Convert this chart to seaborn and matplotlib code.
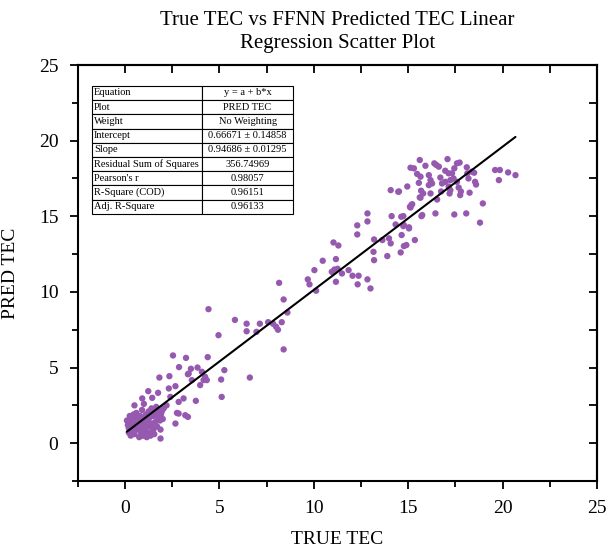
import numpy as np
import pandas as pd
import matplotlib
matplotlib.use("Agg")
import matplotlib.pyplot as plt
import seaborn as sns
from matplotlib.ticker import MultipleLocator

# ---- data ----
true_tec = [
    # dense cluster near origin
    0.1, 0.15, 0.2, 0.2, 0.25, 0.3, 0.3, 0.35, 0.4, 0.4, 0.45, 0.5, 0.5, 0.55, 0.6, 0.6,
    0.65, 0.7, 0.7, 0.75, 0.8, 0.8, 0.85, 0.9, 0.9, 0.95, 1.0, 1.0, 1.05, 1.1, 1.1, 1.15,
    1.2, 1.2, 1.25, 1.3, 1.3, 1.35, 1.4, 1.4, 1.45, 1.5, 1.55, 1.6, 1.6, 1.65, 1.7, 1.75,
    1.8, 1.85, 1.9, 1.95, 2.0, 2.05, 1.1, 0.6, 0.3, 1.5, 0.9, 0.5, 1.0, 2.2,
    # low scatter
    1.88, 1.88, 2.67, 2.84, 2.75, 3.19, 3.33, 0.91, 1.23, 1.44, 1.75, 2.32, 2.4, 2.67,
    2.84, 3.1, 3.75, 5.12, 1.82, 2.35, 3.37, 2.54, 3.23, 4.38, 2.86, 3.49, 3.84, 4.07,
    5.26, 3.33, 4.24, 4.16, 4.33, 5.09, 6.61, 3.54, 3.98,
    # mid
    4.42, 4.95, 5.82, 6.44, 6.44, 6.96, 7.14, 7.58, 7.84, 8.0, 8.1, 8.3, 8.4, 8.16, 8.4, 8.6,
    # upper mid
    9.68, 9.77, 10.12, 10.03, 10.47, 11.17, 10.95, 11.09, 11.26, 11.49, 11.84, 12.05, 12.37,
    12.84, 11.17, 12.32, 13.0, 11.04, 11.3, 12.3, 12.84, 12.3, 12.84, 13.19, 13.63, 13.98,
    14.07, 14.65, 13.16, 13.19, 13.89, 14.6, 14.77, 14.9, 15.35, 14.12, 14.74, 14.33, 14.74,
    15.04, 15.16, 15.09, 15.61, 15.7, 14.07, 14.47,
    # upper cluster
    15.61, 17.08, 15.12, 15.3, 15.91, 16.38, 16.49, 16.62, 17.58, 17.72, 17.44, 16.96, 17.14,
    17.32, 18.1, 18.37, 19.6, 19.85, 20.29, 20.68, 19.8, 15.47, 15.65, 16.09, 16.18, 16.7,
    15.56, 16.09, 16.26, 16.79, 16.96, 17.23, 17.4, 17.58, 18.13, 18.19, 18.49, 18.54, 18.59,
    17.14, 17.23, 17.67, 17.79, 14.95, 14.51, 15.68, 15.79, 16.18, 16.74, 17.19, 17.75, 18.25,
    15.65, 16.53, 18.95, 15.21, 15.12, 15.74, 16.44, 17.44, 18.07, 18.8, 14.77, 15.04, 14.63,
]
pred_tec = [
    1.5, 1.2, 0.7, 1.0, 1.8, 0.5, 1.4, 1.1, 0.8, 1.6, 1.9, 1.3, 0.6, 1.0, 1.7, 2.0,
    1.2, 0.9, 1.5, 0.4, 1.1, 1.8, 0.7, 1.4, 2.2, 1.0, 0.5, 1.6, 1.3, 0.8, 1.9, 0.4,
    1.1, 1.5, 2.1, 0.7, 1.7, 0.5, 1.3, 2.3, 1.0, 1.8, 0.6, 1.4, 2.0, 2.4, 1.1, 1.7,
    2.2, 1.5, 1.9, 2.1, 1.6, 2.3, 0.6, 1.3, 0.9, 0.9, 0.5, 2.5, 2.6, 2.5,
    0.31, 0.9, 1.3, 1.96, 2.0, 1.85, 1.74, 2.96, 3.44, 3.0, 3.33, 3.62, 3.06, 3.77,
    2.73, 2.96, 2.8, 3.06, 4.34, 4.43, 4.6, 5.8, 5.64, 5.69, 5.03, 4.92, 5.0, 4.72,
    4.83, 4.56, 4.39, 4.17, 4.17, 4.21, 4.34, 4.17, 3.84,
    8.86, 7.14, 8.15, 7.9, 7.4, 7.36, 7.9, 8.0, 7.9, 7.7, 7.5, 8.0, 6.2, 10.6, 9.5, 8.64,
    10.83, 10.5, 10.08, 11.44, 12.06, 12.17, 11.33, 11.48, 11.53, 11.22, 11.44, 11.07, 11.07,
    10.83, 10.67, 10.5, 10.23, 13.27, 13.07, 14.4, 14.66, 13.8, 15.19, 13.47, 13.43, 13.54,
    13.21, 13.76, 12.65, 12.1, 12.37, 12.61, 13.03, 13.1, 13.43, 15.01, 15.01, 14.46, 14.35,
    14.2, 15.74, 15.63, 16.25, 15.01, 16.73, 16.62,
    18.72, 18.78, 18.21, 18.17, 18.34, 18.5, 18.39, 18.28, 18.5, 18.55, 18.17, 18.01, 17.84,
    17.84, 18.24, 17.95, 18.06, 18.06, 17.9, 17.72, 17.39, 17.8, 17.62, 17.72, 17.39, 17.56,
    17.21, 17.06, 17.17, 17.17, 17.28, 17.39, 17.5, 17.28, 17.84, 17.5, 17.88, 17.28, 17.1,
    16.97, 16.73, 16.9, 16.64, 16.97, 16.64, 16.69, 16.51, 16.51, 16.64, 16.51, 16.4, 16.56,
    16.23, 16.11, 15.85, 15.8, 15.58, 15.08, 15.19, 15.12, 15.19, 14.58, 14.42, 14.27, 14.97,
]

table_labels = ["Equation", "Plot", "Weight", "Intercept", "Slope",
                "Residual Sum of Squares", "Pearson's r", "R-Square (COD)", "Adj. R-Square"]
table_values = ["y = a + b*x", "PRED TEC", "No Weighting", "0.66671 \u00b1 0.14858",
                "0.94686 \u00b1 0.01295", "356.74969", "0.98057", "0.96151", "0.96133"]
intercept = 0.66671
slope = 0.94686

x_ticks = [0, 5, 10, 15, 20, 25]
y_ticks = [0, 5, 10, 15, 20, 25]
minor_ticks = [0, 2.5, 5, 7.5, 10, 12.5, 15, 17.5, 20, 22.5, 25]

df = pd.DataFrame({"TRUE TEC": true_tec, "PRED TEC": pred_tec})

sns.set_theme(style="ticks")
plt.rcParams["font.family"] = ["Liberation Serif", "DejaVu Serif"]
plt.rcParams["text.color"] = "black"
plt.rcParams["axes.labelcolor"] = "black"
plt.rcParams["xtick.color"] = "black"
plt.rcParams["ytick.color"] = "black"

fig = plt.figure(figsize=(6.08, 5.51), dpi=100)
ax = fig.add_axes([0.128, 0.127, 0.854, 0.755])

sns.scatterplot(data=df, x="TRUE TEC", y="PRED TEC", ax=ax, color="#9559b0",
                s=21, edgecolor="none", zorder=3)

xs = np.array([min(true_tec), max(true_tec)])
line_df = pd.DataFrame({"x": xs, "y": intercept + slope * xs})
sns.lineplot(data=line_df, x="x", y="y", ax=ax, color="black", linewidth=1.5, zorder=4)

ax.set_xlim(-2.5, 25)
ax.set_ylim(-2.5, 25)
ax.set_xticks(x_ticks)
ax.set_yticks(y_ticks)
ax.xaxis.set_minor_locator(MultipleLocator(2.5))
ax.yaxis.set_minor_locator(MultipleLocator(2.5))
for sp in ax.spines.values():
    sp.set_visible(True)
    sp.set_linewidth(1.5)
    sp.set_color("black")
ax.tick_params(axis="both", which="major", direction="out", length=6, width=1.3,
               labelsize=14, colors="black", labelcolor="black", pad=8)
ax.tick_params(axis="both", which="minor", direction="out", length=4, width=1.3,
               colors="black")
ax.tick_params(top=False, right=False, which="both")

sec_x = ax.secondary_xaxis("top")
sec_x.set_xticks(minor_ticks)
sec_x.tick_params(direction="in", length=6, width=1.3, labeltop=False, colors="black")
sec_x.spines["top"].set_linewidth(1.5)
sec_y = ax.secondary_yaxis("right")
sec_y.set_yticks(minor_ticks)
sec_y.tick_params(direction="in", length=6, width=1.3, labelright=False, colors="black")
sec_y.spines["right"].set_linewidth(1.5)

ax.set_xlabel("TRUE TEC", fontsize=14, labelpad=10, color="black")
ax.set_ylabel("PRED TEC", fontsize=14, labelpad=14, color="black")
ax.set_title("True TEC vs FFNN Predicted TEC Linear\nRegression Scatter Plot",
             fontsize=15, pad=12, linespacing=1.3, color="black")

cell_text = [[a, b] for a, b in zip(table_labels, table_values)]
tbl = ax.table(cellText=cell_text, colWidths=[0.55, 0.45],
               bbox=[0.027, 0.642, 0.387, 0.308], zorder=5)
tbl.auto_set_font_size(False)
tbl.set_fontsize(7.5)
for (r, c), cell in tbl.get_celld().items():
    cell.set_edgecolor("black")
    cell.set_linewidth(0.8)
    cell.set_facecolor("white")
    cell.PAD = 0.02
    cell.get_text().set_color("black")
    if c == 0:
        cell.set_text_props(ha="left")
        cell._loc = "left"
    else:
        cell.set_text_props(ha="center")
        cell._loc = "center"

fig.savefig("out.png", dpi=100)
